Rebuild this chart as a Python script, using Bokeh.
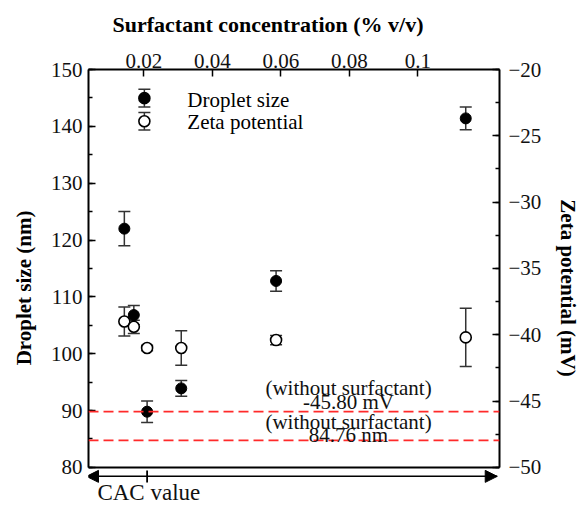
from bokeh.plotting import figure
from bokeh.models import (Range1d, LinearAxis, FixedTicker, SingleIntervalTicker,
                          Whisker, TeeHead, ColumnDataSource, Span,
                          NormalHead, Label)
from bokeh.embed import file_html
from bokeh.resources import INLINE

# ---------------- data ----------------
conc = [0.01, 0.0125, 0.016, 0.025, 0.05, 0.1]          # surfactant concentration (% v/v)
droplet = [122.0, 106.8, 89.8, 93.9, 112.8, 141.4]       # droplet size (nm)
droplet_err = [3.0, 1.7, 1.9, 1.4, 1.8, 2.0]
zeta = [-39.0, -39.4, -41.0, -41.0, -40.4, -40.2]        # zeta potential (mV)
zeta_err = [1.1, 0.5, 0.2, 1.3, 0.35, 2.2]

top_ticks = [0.02, 0.04, 0.06, 0.08, 0.1]
top_labels = ["0.02", "0.04", "0.06", "0.08", "0.1"]
left_ticks = [80, 90, 100, 110, 120, 130, 140, 150]
right_ticks = [-50, -45, -40, -35, -30, -25, -20]

no_surf_zeta = -45.80     # mV, without surfactant
no_surf_size = 84.76      # nm, without surfactant
cac_value = 0.016

FONT = "Liberation Serif"
TXT = "#111111"

# The frame extends below the axes' bounds (80 nm / -50 mV) to hold the
# CAC arrow and its label; axes are bounded to the visible box.
p = figure(width=583, height=506, output_backend="svg", toolbar_location=None,
           x_range=Range1d(0.00055, 0.1089), y_range=Range1d(73.12, 150),
           x_axis_location=None, y_axis_location=None,
           min_border_left=88, min_border_right=78, min_border_top=69,
           min_border_bottom=0, background_fill_color="white",
           border_fill_color="white")
p.grid.visible = False
p.outline_line_color = None
p.extra_x_ranges = {"top": Range1d(0.0038, 0.1238)}
p.extra_y_ranges = {"right": Range1d(-52.95, -20)}


def style(ax, standoff):
    ax.axis_line_width = 2
    ax.axis_line_color = "black"
    ax.major_tick_in = 7
    ax.major_tick_out = 0
    ax.minor_tick_in = 4
    ax.minor_tick_out = 0
    ax.major_tick_line_width = 1.5
    ax.minor_tick_line_width = 1.5
    ax.major_label_text_font = FONT
    ax.major_label_text_font_size = "21px"
    ax.major_label_text_color = TXT
    ax.major_label_standoff = standoff
    ax.axis_label_text_font = FONT
    ax.axis_label_text_font_size = "21px"
    ax.axis_label_text_font_style = "bold"
    ax.axis_label_text_color = "black"


left = LinearAxis(ticker=SingleIntervalTicker(interval=10, num_minor_ticks=2),
                  axis_label="Droplet size (nm)", bounds=(80, 150))
style(left, 6)
left.axis_label_standoff = 12
p.add_layout(left, "left")

right = LinearAxis(y_range_name="right",
                   ticker=SingleIntervalTicker(interval=5, num_minor_ticks=2),
                   axis_label="Zeta potential (mV)", bounds=(-50, -20),
                   major_label_overrides={t: "\u2212" + str(abs(t)) for t in right_ticks})
style(right, 9)
right.axis_label_standoff = 12
p.add_layout(right, "right")

top = LinearAxis(x_range_name="top", ticker=FixedTicker(ticks=top_ticks, minor_ticks=[]),
                 major_label_overrides=dict(zip(top_ticks, top_labels)),
                 axis_label=" ")
style(top, 2)
top.axis_label_text_font_size = "1px"
top.axis_label_standoff = 5
p.add_layout(top, "above")

p.title.text = "Surfactant concentration (% v/v)"
p.title.align = "left"
p.title.offset = 24
p.title.text_font = FONT
p.title.text_font_size = "22px"
p.title.text_font_style = "bold"
p.title.text_color = "black"

# bottom edge of the plot box
p.add_layout(Span(location=80, dimension="width", line_color="black", line_width=2))

# ---------------- reference lines ----------------
p.add_layout(Span(location=no_surf_zeta, dimension="width", y_range_name="right",
                  line_color="#ff2a2a", line_dash="10 5", line_width=1.6))
p.add_layout(Span(location=no_surf_size, dimension="width",
                  line_color="#ff2a2a", line_dash="10 5", line_width=1.6))

txt_x = 0.0691
for y, t, rng in [(no_surf_zeta + 1.81, "(without surfactant)", "right"),
                  (no_surf_zeta + 0.70, "-45.80 mV", "right"),
                  (no_surf_size + 3.22, "(without surfactant)", "default"),
                  (no_surf_size + 0.88, "84.76 nm", "default")]:
    p.add_layout(Label(x=txt_x, y=y, y_range_name=rng, text=t, text_font=FONT,
                       text_font_size="21px", text_color=TXT, text_align="center",
                       text_baseline="middle"))

# ---------------- error bars and points ----------------
src_d = ColumnDataSource(dict(x=conc, y=droplet,
                              lo=[v - e for v, e in zip(droplet, droplet_err)],
                              hi=[v + e for v, e in zip(droplet, droplet_err)]))
src_z = ColumnDataSource(dict(x=conc, y=zeta,
                              lo=[v - e for v, e in zip(zeta, zeta_err)],
                              hi=[v + e for v, e in zip(zeta, zeta_err)]))


def tee():
    return TeeHead(size=12, line_width=1.5, line_color="#333333")


p.add_layout(Whisker(base="x", lower="lo", upper="hi", source=src_d, dimension="height",
                     line_color="#333333", line_width=1.5,
                     lower_head=tee(), upper_head=tee()))
p.add_layout(Whisker(base="x", lower="lo", upper="hi", source=src_z, dimension="height",
                     y_range_name="right", line_color="#333333", line_width=1.5,
                     lower_head=tee(), upper_head=tee()))

p.scatter("x", "y", source=src_d, size=11, fill_color="black", line_color="black")
p.scatter("x", "y", source=src_z, y_range_name="right", size=11, fill_color="white",
          line_color="black", line_width=1.6)

# ---------------- legend (drawn manually, error-bar style) ----------------
leg_x = 0.01528
leg_y = [144.96, 140.9]
leg_err = 1.55
leg_src = ColumnDataSource(dict(x=[leg_x, leg_x], y=leg_y,
                                lo=[v - leg_err for v in leg_y],
                                hi=[v + leg_err for v in leg_y],
                                fill=["black", "white"]))
p.add_layout(Whisker(base="x", lower="lo", upper="hi", source=leg_src, dimension="height",
                     line_color="#333333", line_width=1.5,
                     lower_head=tee(), upper_head=tee()))
p.scatter("x", "y", source=leg_src, size=11, fill_color="fill", line_color="black",
          line_width=1.6)
for y, t in [(144.6, "Droplet size"), (140.8, "Zeta potential")]:
    p.add_layout(Label(x=0.02661, y=y, text=t, text_font=FONT, text_font_size="21px",
                       text_color="black", text_align="left", text_baseline="middle"))

# ---------------- bottom double arrow with CAC marker ----------------
arrow_y = 78.42
arrow_src = ColumnDataSource(dict(b=[arrow_y], lo=[0.00002], hi=[0.1083]))
p.add_layout(Whisker(base="b", lower="lo", upper="hi", source=arrow_src, dimension="width",
                     line_color="black", line_width=1.5,
                     lower_head=NormalHead(size=12, fill_color="black", line_color="black"),
                     upper_head=NormalHead(size=12, fill_color="black", line_color="black")))
cac_src = ColumnDataSource(dict(b=[cac_value], lo=[77.36], hi=[79.47]))
p.add_layout(Whisker(base="b", lower="lo", upper="hi", source=cac_src, dimension="height",
                     line_color="black", line_width=1.8, lower_head=None, upper_head=None))
p.add_layout(Label(x=0.0029, y=73.30, text="CAC value", text_font=FONT,
                   text_font_size="23px", text_color=TXT, text_align="left",
                   text_baseline="bottom"))

open("out.html", "w").write(file_html(p, INLINE))
